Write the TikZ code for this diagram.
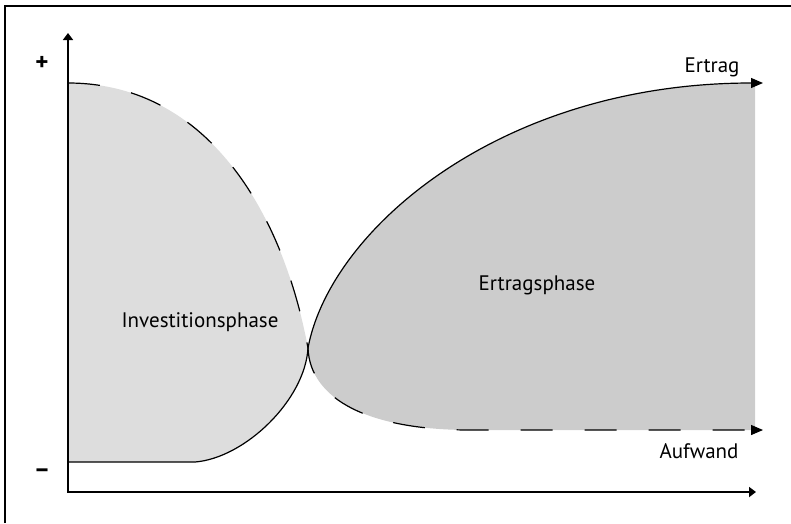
\documentclass[tikz,border=0pt]{standalone}
\usepackage{fontspec}
\setmainfont{PT Sans}
\usepackage{xcolor}
\usetikzlibrary{arrows.meta}
\definecolor{lightfill}{RGB}{221,221,221}
\definecolor{darkfill}{RGB}{204,204,204}

\begin{document}
\begin{tikzpicture}[x=1pt,y=-1pt,
      ax/.style={line width=2pt,{Triangle[length=7pt,width=10pt]}-{Triangle[length=7pt,width=10pt]}},
      cv/.style={line width=1.2pt},
      dsh/.style={line width=1.2pt,dash pattern=on 32pt off 32pt},
      tip/.style={-{Triangle[length=12pt,width=10pt]}},
      lbl/.style={font=\fontsize{21}{25}\selectfont},
      sgn/.style={font=\fontsize{25}{30}\selectfont\bfseries}]
      \useasboundingbox (0,0) rectangle (791,523);
      \coordinate (fb) at (5,523); \coordinate (fc) at (5,6); \coordinate (fr) at (791,6);
      \coordinate (top) at (68,33); \coordinate (o) at (68,492); \coordinate (xr) at (756,492);
      \coordinate (a0) at (68,83); \coordinate (cx) at (308,348);
      \coordinate (b0) at (68,462); \coordinate (b1) at (195,462);
      \coordinate (e0) at (755,83); \coordinate (e1) at (763,83);
      \coordinate (f0) at (470,430); \coordinate (f1) at (755,430); \coordinate (f2) at (763,430);
      % flaechen
      \fill[lightfill] (a0) .. controls (200,83) and (280,200) .. (cx)
        .. controls (305,400) and (245,458) .. (b1) -- (b0) -- cycle;
      \fill[darkfill] (cx) .. controls (330,230) and (500,83) .. (e0) -- (f1) -- (f0)
        .. controls (370,430) and (310,400) .. (cx) -- cycle;
      % rahmen und achsen
      \draw[line width=2pt] (fb) -- (fc) -- (fr);
      \draw[ax] (top) -- (o) -- (xr);
      % kurven
      \draw[cv] (b0) -- (b1) .. controls (245,458) and (305,400) .. (cx);
      \draw[cv,tip] (cx) .. controls (330,230) and (500,83) .. (e1);
      \draw[dsh,tip] (a0) .. controls (200,83) and (280,200) .. (cx)
        .. controls (310,400) and (370,430) .. (f0) -- (f2);
      % texte
      \node[sgn] (plus) at (42,63) {+};
      \node[sgn] (minus) at (42,473) {–};
      \node[lbl] (inv) at (200,322) {Investitionsphase};
      \node[lbl] (ert) at (537,285) {Ertragsphase};
      \node[lbl] (ertrag) at (712,67) {Ertrag};
      \node[lbl] (aufw) at (699,451) {Aufwand};
    \end{tikzpicture}
\end{document}
